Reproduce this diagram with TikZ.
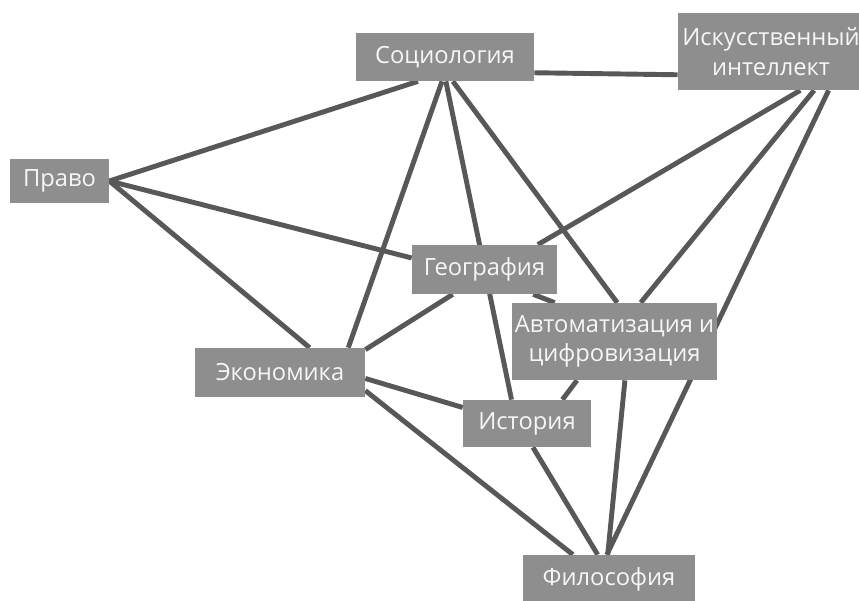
\documentclass[tikz,border=0pt]{standalone}
\usepackage{fontspec}
\setmainfont{Open Sans}
\usetikzlibrary{backgrounds}
\definecolor{boxgray}{RGB}{142,142,142}
\definecolor{linegray}{RGB}{88,88,88}
\definecolor{labelwhite}{RGB}{246,246,246}

\begin{document}
\begin{tikzpicture}[x=0.02cm, y=-0.02cm,
        topic/.style={fill=boxgray, text=labelwhite, inner sep=0pt, align=center,
            font=\fontsize{13.5pt}{16.8pt}\selectfont},
        link/.style={draw=linegray, line width=2.8pt}]
        \clip (0,0) rectangle (859,601);
        \node[topic, minimum width=3.56cm, minimum height=0.96cm] (soc) at (445,57) {Социология};
        \node[topic, minimum width=3.72cm, minimum height=1.54cm] (ai) at (771,51.5) {Искусственный\\интеллект};
        \node[topic, minimum width=1.98cm, minimum height=0.88cm] (pravo) at (59.5,181) {Право};
        \node[topic, minimum width=2.9cm, minimum height=0.98cm] (geo) at (484.5,269.5) {География};
        \node[topic, minimum width=4.1cm, minimum height=1.54cm] (auto) at (614.5,341.5) {Автоматизация и\\цифровизация};
        \node[topic, minimum width=3.4cm, minimum height=0.98cm] (econ) at (280,372.5) {Экономика};
        \node[topic, minimum width=2.56cm, minimum height=0.94cm] (hist) at (527,423.5) {История};
        \node[topic, minimum width=3.44cm, minimum height=0.96cm] (phil) at (609,579) {Философия};
        \begin{pgfonlayer}{background}
            \draw[link] (soc.-10) -- (ai.194);
            \draw[link] (soc.222) -- (pravo.east);
            \draw[link] (soc.263) -- (econ.20);
            \draw[link] (soc.-88) -- (hist.123);
            \draw[link] (soc.-72) -- (auto.86);
            \draw[link] (pravo.east) -- (geo.171);
            \draw[link] (pravo.east) -- (econ.40);
            \draw[link] (geo.218) -- (econ.15);
            \draw[link] (geo.-27) -- (auto.147);
            \draw[link] (ai.-53) -- (geo.25);
            \draw[link] (ai.-42) -- (auto.56);
            \draw[link] (ai.-34.5) -- (phil.95);
            \draw[link] (econ.-4) -- (hist.166);
            \draw[link] (econ.-12) -- (phil.146);
            \draw[link] (auto.-134) -- (hist.34);
            \draw[link] (auto.-75) -- (phil.93);
            \draw[link] (hist.-76) -- (phil.115);
        \end{pgfonlayer}
    \end{tikzpicture}
\end{document}
